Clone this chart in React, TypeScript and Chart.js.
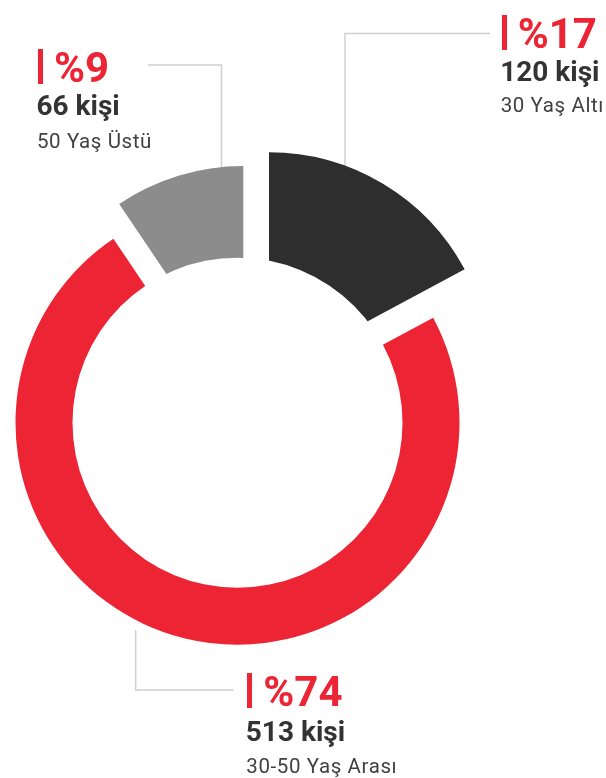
import React, { useEffect, useRef } from 'react';
import { Chart, registerables } from 'chart.js';

Chart.register(...registerables);

// ---- data ----
const categories = ['30 Yaş Altı', '30-50 Yaş Arası', '50 Yaş Üstü'];
const counts = [120, 513, 66];
const percents = [17, 74, 9];
const countLabels = counts.map((c) => `${c} kişi`);
const percentLabels = percents.map((p) => `%${p}`);

// ---- style ----
const COLORS = ['#2e2e2e', '#ec2433', '#8c8c8c'];
const RED = '#ec2433';
const RADIUS = 222;
const HOLE = 165;
// exploded slice shift (px) per segment
const EXPLODE: [number, number][] = [
  [31.5, -48.5],
  [0, 0],
  [5.8, -34.7],
];
const W = 606;
const H = 778;
const PAD = { left: 0, right: 131, top: 67.4, bottom: 0 };
const LEADER_COLOR = '#d0d0d0';
// leader polylines per segment
const LEADERS: [number, number][][] = [
  [[490, 33.5], [345, 33.5], [345, 175]],
  [[233.5, 690], [135.7, 690], [135.7, 630]],
  [[147.7, 65], [221.5, 65], [221.5, 175]],
];
// label blocks: left edge and baselines of the three lines
const BLOCKS = [
  { left: 501.7, base: [48.3, 81.7, 112.3] },
  { left: 247.3, base: [706, 741.3, 773.3] },
  { left: 38, base: [82.3, 115.7, 148.3] },
];
const ASC = 0.842; // Roboto baseline offset with line-height 1em

const geometryPlugin = {
  id: 'geometry',
  afterDatasetsUpdate(chart: any) {
    const ca = chart.chartArea;
    const cx = (ca.left + ca.right) / 2;
    const cy = (ca.top + ca.bottom) / 2;
    const meta = chart.getDatasetMeta(0);
    meta.data.forEach((el: any, i: number) => {
      const [dx, dy] = EXPLODE[i] || [0, 0];
      el.x = cx + dx;
      el.y = cy + dy;
    });
  },
  beforeDatasetsDraw(chart: any) {
    const ctx = chart.ctx as CanvasRenderingContext2D;
    const ca = chart.chartArea;
    const cx = (ca.left + ca.right) / 2;
    const cy = (ca.top + ca.bottom) / 2;
    ctx.save();
    ctx.strokeStyle = LEADER_COLOR;
    ctx.lineWidth = 1.5;
    LEADERS.forEach((pts) => {
      ctx.beginPath();
      pts.forEach(([x, y], k) => (k ? ctx.lineTo(x, y) : ctx.moveTo(x, y)));
      ctx.stroke();
    });
    ctx.restore();
    ctx.save();
    ctx.beginPath();
    ctx.rect(0, 0, chart.width, chart.height);
    ctx.arc(cx, cy, HOLE, 0, Math.PI * 2);
    ctx.clip('evenodd');
  },
  afterDatasetsDraw(chart: any) {
    chart.ctx.restore();
  },
};

function Label({ idx }: { idx: number }) {
  const b = BLOCKS[idx];
  const line = (text: string, x: number, base: number, fs: number, weight: number, color: string, ls = 0) => (
    <div
      style={{
        position: 'absolute',
        left: x,
        top: base - ASC * fs,
        fontFamily: 'Roboto, sans-serif',
        fontSize: fs,
        lineHeight: `${fs}px`,
        fontWeight: weight,
        color,
        whiteSpace: 'nowrap',
        letterSpacing: ls,
      }}
    >
      {text}
    </div>
  );
  return (
    <>
      <div
        style={{
          position: 'absolute',
          left: b.left,
          top: b.base[0] - 33.5,
          width: 5,
          height: 35.5,
          background: RED,
        }}
      />
      {line(percentLabels[idx], b.left + 16, b.base[0], 42, 700, RED)}
      {line(countLabels[idx], b.left - 1.5, b.base[1], 28, 700, '#333333')}
      {line(categories[idx], b.left - 1, b.base[2], 20.5, 400, '#404040', 0.6)}
    </>
  );
}

export default function App() {
  const ref = useRef<HTMLCanvasElement>(null);
  useEffect(() => {
    const canvas = ref.current!;
    const chart = new Chart(canvas, {
      type: 'pie',
      data: {
        labels: categories,
        datasets: [
          {
            data: counts,
            backgroundColor: COLORS,
            borderWidth: 0,
            hoverOffset: 0,
            radius: RADIUS,
          } as any,
        ],
      },
      options: {
        animation: false,
        responsive: true,
        maintainAspectRatio: false,
        events: [],
        layout: { padding: PAD },
        plugins: { legend: { display: false }, tooltip: { enabled: false } },
      } as any,
      plugins: [geometryPlugin],
    });
    return () => chart.destroy();
  }, []);

  return (
    <div style={{ position: 'absolute', left: 0, top: 0, width: W, height: H, background: '#fff', overflow: 'hidden' }}>
      <div style={{ position: 'absolute', left: 0, top: 0, width: W, height: H }}>
        <canvas ref={ref} />
      </div>
      {[0, 1, 2].map((i) => (
        <Label key={i} idx={i} />
      ))}
    </div>
  );
}
